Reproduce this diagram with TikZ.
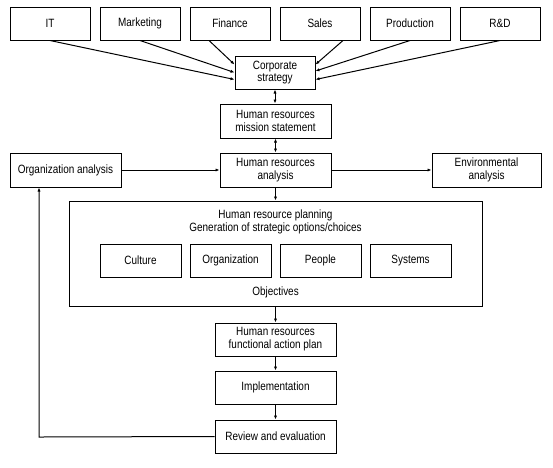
\documentclass[tikz,border=0pt]{standalone}
\usepackage{fontspec}
\setmainfont{Liberation Sans}[FakeStretch=0.83]
\usetikzlibrary{arrows.meta}

\begin{document}
\begin{tikzpicture}[
    x=1pt, y=-1pt,
    font=\fontsize{12}{12.8}\selectfont,
    line width=1pt,
    block/.style={
        rectangle,
        draw,
        align=center,
        inner sep=2pt,
        minimum width=80pt,
        minimum height=33pt
    },
    wideblock/.style={
        block,
        minimum width=111pt,
        minimum height=34pt
    },
    arrow/.style={
        -{Latex[length=4pt,width=3.2pt]}
    },
    twoway/.style={
        {Latex[length=4pt,width=3.2pt]}-{Latex[length=4pt,width=3.2pt]}
    }
]
\useasboundingbox (0,0) rectangle (553,467);

\node[block] (it) at (50,23.5) {IT};
\node[block] (marketing) at (140,23.5) {Marketing};
\node[block] (finance) at (230,23.5) {Finance};
\node[block] (sales) at (320,23.5) {Sales};
\node[block] (production) at (410,23.5) {Production};
\node[block] (rd) at (500,23.5) {R\&D};

\node[block] (corp) at (275,72.5) {Corporate\\strategy};
\node[wideblock] (mission) at (275.5,121) {Human resources\\mission statement};
\node[wideblock] (hra) at (275.5,170) {Human resources\\analysis};
\node[wideblock] (org) at (65.5,170) {Organization analysis};
\node[wideblock, minimum width=109pt] (env) at (486.5,170) {Environmental\\analysis};

% planning box
\node[draw, minimum width=413pt, minimum height=105pt] (planning) at (275.5,253.5) {};
\node[align=center] (hrptitle) at (275.5,222) {Human resource planning\\Generation of strategic options/choices};
\node[block, minimum width=81pt] (culture) at (140.5,260.5) {Culture};
\node[block, minimum width=81pt] (organization) at (230.5,260.5) {Organization};
\node[block, minimum width=81pt] (people) at (320.5,260.5) {People};
\node[block, minimum width=81pt] (systems) at (410.5,260.5) {Systems};
\node (obj) at (275.5,292) {Objectives};

\node[block, minimum width=121pt] (action) at (275.5,339.5) {Human resources\\functional action plan};
\node[block, minimum width=121pt] (impl) at (275.5,387.5) {Implementation};
\node[block, minimum width=121pt] (review) at (275.5,436.5) {Review and evaluation};

\draw[arrow] (it.south) -- ([yshift=-7pt]corp.west);
\draw[arrow] (marketing.south) -- (corp.west);
\draw[arrow] ([xshift=-21pt]finance.south) -- ([yshift=8pt]corp.west);
\draw[arrow] ([xshift=23pt]sales.south) -- ([yshift=8pt]corp.east);
\draw[arrow] (production.south) -- ([yshift=1.5pt]corp.east);
\draw[arrow] (rd.south) -- ([yshift=-7pt]corp.east);

\draw[twoway] (corp.south) -- (corp.south |- mission.north);
\draw[twoway] (mission) -- (hra);
\draw[arrow] (org) -- (hra);
\draw[arrow] (hra) -- (env);
\draw[arrow] (hra) -- (hra.south |- planning.north);
\draw[arrow] (action.north |- planning.south) -- (action);
\draw[arrow] (action) -- (impl);
\draw[arrow] (impl) -- (review);

\coordinate (back) at (39,437);

\draw[arrow]
(review.west)
-- (back)
-- (back |- org.south);

\end{tikzpicture}
\end{document}
